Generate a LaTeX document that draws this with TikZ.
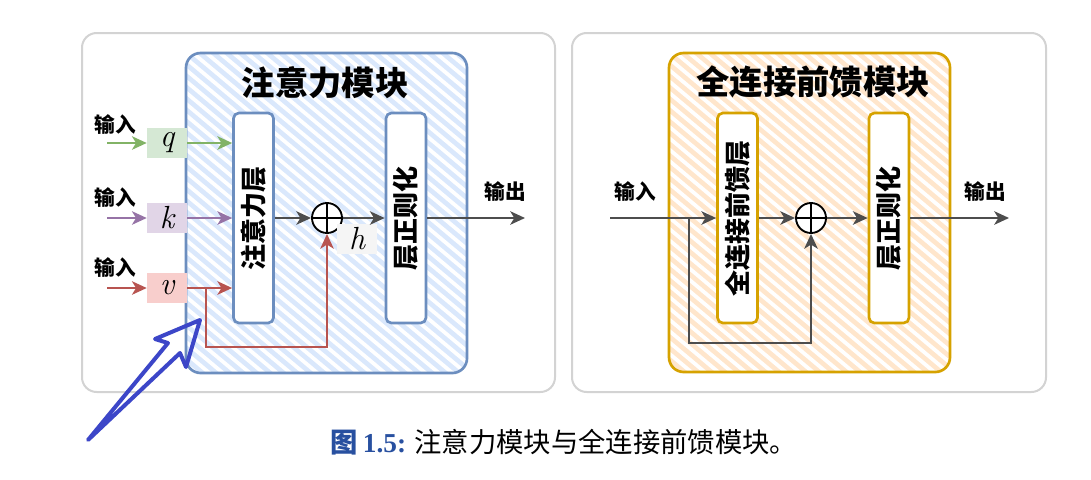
\documentclass[tikz,border=0pt]{standalone}
\usepackage{fontspec}
\usetikzlibrary{arrows.meta,positioning}
\newfontfamily\cjk{Noto Sans CJK SC}
\newfontfamily\capserif{Liberation Serif}

\definecolor{panelgray}{HTML}{D3D3D3}
\definecolor{attnfill}{HTML}{DAE8FC}
\definecolor{attnline}{HTML}{6C8EBF}
\definecolor{ffnfill}{HTML}{FFE6CC}
\definecolor{ffnline}{HTML}{D6A200}
\definecolor{arrgray}{HTML}{4D4D4D}
\definecolor{qcol}{HTML}{82B366}
\definecolor{qfill}{HTML}{D5E8D4}
\definecolor{kcol}{HTML}{9673A6}
\definecolor{kfill}{HTML}{E1D5E7}
\definecolor{vcol}{HTML}{B85450}
\definecolor{vfill}{HTML}{F8CECC}
\definecolor{handblue}{RGB}{60,70,200}
\definecolor{capblue}{RGB}{40,80,160}

\tikzset{
  panel/.style={draw=panelgray, line width=1.5pt, rounded corners=11pt, fill=white},
  stripe/.style={white, line width=2.8pt},
  modline/.style={line width=2pt, rounded corners=11pt},
  layerbox/.style={draw, fill=white, line width=2pt, rounded corners=4pt,
    minimum width=30pt, minimum height=157.5pt, inner sep=0pt,
    font=\cjk\bfseries\fontsize{19.5}{20}\selectfont},
  inbox/.style={minimum width=30pt, minimum height=22.5pt, inner sep=0pt,
    font=\itshape\fontsize{24}{24}\selectfont},
  flow/.style={line width=2.1pt, -{Stealth[length=11pt,width=10pt,inset=3pt]}},
  addop/.style={circle, draw, line width=1.4pt, fill=white, minimum size=22.5pt, inner sep=0pt,
    path picture={\draw[line width=1.4pt]
      (path picture bounding box.north) -- (path picture bounding box.south)
      (path picture bounding box.west) -- (path picture bounding box.east);}},
  lbl/.style={font=\cjk\bfseries\fontsize{15.5}{16}\selectfont},
  title/.style={font=\cjk\bfseries\fontsize{25}{26}\selectfont},
}

\begin{document}
\begin{tikzpicture}[x=0.75pt, y=-0.75pt]
    \useasboundingbox (0,0) rectangle (1091,479);

    % Outer panels
    \draw[panel] (82,33) rectangle (555,392);
    \draw[panel] (572,33) rectangle (1046,392);

    % ---------- Attention module ----------
    \begin{scope}
        \clip[rounded corners=11pt] (186,53) rectangle (467,373);
        \fill[attnfill] (186,53) rectangle (467,373);
        \foreach \i in {0,...,50}
            \draw[stripe] ({-214+13.5*\i},40) -- ++(400,336);
    \end{scope}
    \draw[modline, attnline] (186,53) rectangle (467,373);
    \node[title] (titleA) at (325,83) {注意力模块};

    \node[layerbox, draw=attnline] (attn) at (253.5,218) {\rotatebox{90}{注意力层}};
    \node[layerbox, draw=attnline] (normA) at (406,218) {\rotatebox{90}{层正则化}};
    \node[addop] (addA) at (327,218) {};
    \node[inbox, fill=black!4] (hlab) at (357,239) {h};

    % Inputs q, k, v
    \node[inbox, fill=qfill] (q) at (167,143) {q};
    \node[inbox, fill=kfill] (k) at (167,218) {k};
    \node[inbox, fill=vfill] (v) at (167,288) {v};
    \coordinate (qin) at (107,143);
    \coordinate (kin) at (107,218);
    \coordinate (vin) at (107,288);
    \node[lbl] (qlab) at (115,125) {输入};
    \node[lbl] (klab) at (115,198) {输入};
    \node[lbl] (vlab) at (115,268) {输入};

    \draw[flow, qcol] (qin) -- (q);
    \draw[flow, kcol] (kin) -- (k);
    \draw[flow, vcol] (vin) -- (v);
    \draw[flow, qcol] (q) -- (attn.west |- q);
    \draw[flow, kcol] (k) -- (attn.west |- k);
    \draw[flow, vcol] (v) -- (attn.west |- v);

    % Residual branch
    \coordinate (vsplit) at (206,288);
    \draw[flow, vcol] (vsplit) -- ++(0,59) -| (addA.south);

    \draw[flow, arrgray] (attn) -- (addA);
    \draw[flow, arrgray] (addA) -- (normA);
    \coordinate (outA) at (525,218);
    \draw[flow, arrgray] (normA) -- (outA);
    \node[lbl] (outlabA) at (505,192) {输出};

    % ---------- Feed-forward module ----------
    \begin{scope}
        \clip[rounded corners=11pt] (669,53) rectangle (950,372);
        \fill[ffnfill] (669,53) rectangle (950,372);
        \foreach \i in {0,...,50}
            \draw[stripe] ({269+13.5*\i},40) -- ++(400,336);
    \end{scope}
    \draw[modline, ffnline] (669,53) rectangle (950,372);
    \node[title] (titleB) at (813,82) {全连接前馈模块};

    \node[layerbox, draw=ffnline] (ffn) at (737.5,218) {\rotatebox{90}{全连接前馈层}};
    \node[layerbox, draw=ffnline] (normB) at (889,218) {\rotatebox{90}{层正则化}};
    \node[addop] (addB) at (811,218) {};

    \coordinate (inB) at (610,218);
    \node[lbl] (inlabB) at (635,192) {输入};
    \draw[flow, arrgray] (inB) -- (ffn);
    \coordinate (fsplit) at (689,218);
    \draw[flow, arrgray] (fsplit) -- ++(0,125) -| (addB.south);

    \draw[flow, arrgray] (ffn) -- (addB);
    \draw[flow, arrgray] (addB) -- (normB);
    \coordinate (outB) at (1009,218);
    \draw[flow, arrgray] (normB) -- (outB);
    \node[lbl] (outlabB) at (985,192) {输出};

    % Hand-drawn pointer
    \draw[handblue, line width=3pt, line join=round, line cap=round]
        (88,440) -- (168,343) -- (155,339) -- (200,320) -- (186,367) -- (180,353) -- cycle;

    % Caption
    \node[font=\fontsize{20.5}{22}\selectfont] (cap) at (564,442)
        {\textcolor{capblue}{\cjk\bfseries 图\,\capserif\bfseries 1.5:}\ \cjk 注意力模块与全连接前馈模块。};
\end{tikzpicture}
\end{document}
